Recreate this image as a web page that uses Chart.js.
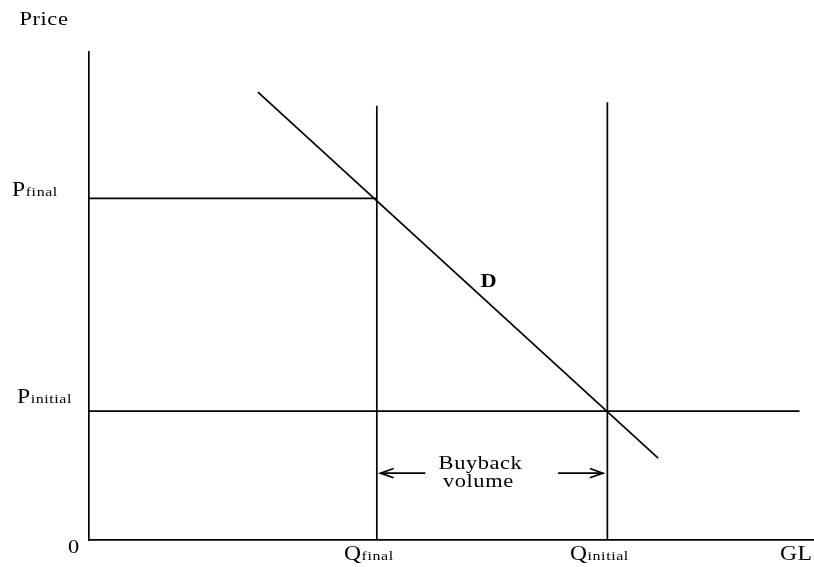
<!DOCTYPE html>
<html>
<head>
<meta charset="utf-8">
<script src="https://cdn.jsdelivr.net/npm/chart.js@4.4.0/dist/chart.umd.min.js"></script>
<style>
    html, body { margin: 0; padding: 0; background: #fff; }
    #wrap { width: 814px; height: 567px; }
</style>
</head>
<body>
<div id="wrap"><canvas id="chart"></canvas></div>
<script>
// values (axes run 0..100 in both directions)
const qFinal = 39.7;
const qInitial = 71.5;
const pFinal = 70;
const pInitial = 26.4;
const demandX = [23.3, 78.5];
const demandY = [91.8, 16.8];
const qLineTops = [89, 89.7];
const pInitialEnd = 98;
const buybackLevel = 13.7;
const leftArrowX = [46.4, 40.2];
const rightArrowX = [64.7, 70.9];

const xTickValues = [qFinal, qInitial];
const xTickLabels = [['Q', 'final'], ['Q', 'initial']];
const yTickValues = [pFinal, pInitial];
const yTickLabels = [['P', 'final'], ['P', 'initial']];

const seg = (x1, y1, x2, y2) => [{x: x1, y: y1}, {x: x2, y: y2}];

const lineStyle = {
    showLine: true,
    pointRadius: 0,
    borderColor: '#000',
    borderWidth: 1.7,
    fill: false,
    clip: false
};

const datasets = [
    {label: 'D', data: seg(demandX[0], demandY[0], demandX[1], demandY[1])},
    {label: 'Pfinal', data: seg(0, pFinal, qFinal, pFinal)},
    {label: 'Pinitial', data: seg(0, pInitial, pInitialEnd, pInitial)},
    {label: 'Qfinal', data: seg(qFinal, 0, qFinal, qLineTops[0])},
    {label: 'Qinitial', data: seg(qInitial, 0, qInitial, qLineTops[1])},
    {label: 'arrowL', arrow: true, data: seg(leftArrowX[0], buybackLevel, leftArrowX[1], buybackLevel)},
    {label: 'arrowR', arrow: true, data: seg(rightArrowX[0], buybackLevel, rightArrowX[1], buybackLevel)}
].map(d => Object.assign({}, lineStyle, d));

const FONT = '"Liberation Serif", "Times New Roman", serif';

// draws text made of [string, size] parts on one baseline, a bit stretched like the original
const drawParts = (ctx, parts, x, y, align, bold) => {
    const sx = 1.18;
    ctx.save();
    ctx.fillStyle = '#000';
    ctx.textBaseline = 'alphabetic';
    ctx.textAlign = 'left';
    ctx.letterSpacing = '0.5px';
    let total = 0;
    parts.forEach(([t, s]) => {
        ctx.font = `${bold ? 'bold ' : ''}${s}px ${FONT}`;
        total += ctx.measureText(t).width;
    });
    total *= sx;
    let start = align === 'center' ? x - total / 2 : (align === 'right' ? x - total : x);
    ctx.translate(start, y);
    ctx.scale(sx, 1);
    let cx = 0;
    parts.forEach(([t, s]) => {
        ctx.font = `${bold ? 'bold ' : ''}${s}px ${FONT}`;
        ctx.fillText(t, cx, 0);
        cx += ctx.measureText(t).width;
    });
    ctx.restore();
};

const arrowHeads = {
    id: 'arrowHeads',
    afterDatasetsDraw(chart) {
        const ctx = chart.ctx;
        chart.data.datasets.forEach((ds, i) => {
            if (!ds.arrow) return;
            const pts = chart.getDatasetMeta(i).data;
            const a = pts[pts.length - 2], b = pts[pts.length - 1];
            const ang = Math.atan2(b.y - a.y, b.x - a.x);
            const len = 14, spread = 0.34;
            ctx.save();
            ctx.strokeStyle = '#000';
            ctx.lineWidth = 1.7;
            ctx.beginPath();
            ctx.moveTo(b.x - len * Math.cos(ang - spread), b.y - len * Math.sin(ang - spread));
            ctx.lineTo(b.x, b.y);
            ctx.lineTo(b.x - len * Math.cos(ang + spread), b.y - len * Math.sin(ang + spread));
            ctx.stroke();
            ctx.restore();
        });
    }
};

const labelsPlugin = {
    id: 'labels',
    afterDraw(chart, args, opts) {
        const ctx = chart.ctx;
        const xs = chart.scales.x, ys = chart.scales.y;
        const bottom = chart.chartArea.bottom;

        xTickValues.forEach((v, i) => {
            const [main, sub] = xTickLabels[i];
            drawParts(ctx, [[main, 20], [sub, 13.5]], xs.getPixelForValue(v) - 8, bottom + 20, 'center');
        });
        yTickValues.forEach((v, i) => {
            const [main, sub] = yTickLabels[i];
            const off = opts.yTickOffsets[i];
            drawParts(ctx, [[main, 20], [sub, 13.5]], off[0], ys.getPixelForValue(v) + off[1], 'left');
        });
        opts.notes.forEach(n => {
            drawParts(ctx, n.parts, xs.getPixelForValue(n.x), ys.getPixelForValue(n.y), n.align, n.bold);
        });
    }
};

new Chart(document.getElementById('chart'), {
    type: 'scatter',
    data: {datasets},
    options: {
        responsive: true,
        maintainAspectRatio: false,
        animation: false,
        layout: {padding: {left: 81, top: 52, right: 0, bottom: 19}},
        scales: {
            x: {
                type: 'linear', min: 0, max: 100,
                grid: {display: false},
                ticks: {display: false},
                border: {display: true, color: '#000', width: 1.7}
            },
            y: {
                type: 'linear', min: 0, max: 100,
                grid: {display: false},
                ticks: {display: false},
                border: {display: true, color: '#000', width: 1.7}
            }
        },
        plugins: {
            legend: {display: false},
            tooltip: {enabled: false},
            labels: {
                yTickOffsets: [[12, -2], [17, -8]],
                notes: [
                    {parts: [['Price', 19]], x: -9.6, y: 105.5, align: 'left'},
                    {parts: [['0', 19]], x: -2.9, y: -2.66, align: 'left'},
                    {parts: [['GL', 20]], x: 95.3, y: -4.1, align: 'left'},
                    {parts: [['D', 19]], x: 54.0, y: 51.8, align: 'left', bold: true},
                    {parts: [['Buyback', 19]], x: 54.0, y: 14.5, align: 'center'},
                    {parts: [['volume', 19]], x: 53.7, y: 10.9, align: 'center'}
                ]
            }
        }
    },
    plugins: [arrowHeads, labelsPlugin]
});
</script>
</body>
</html>
